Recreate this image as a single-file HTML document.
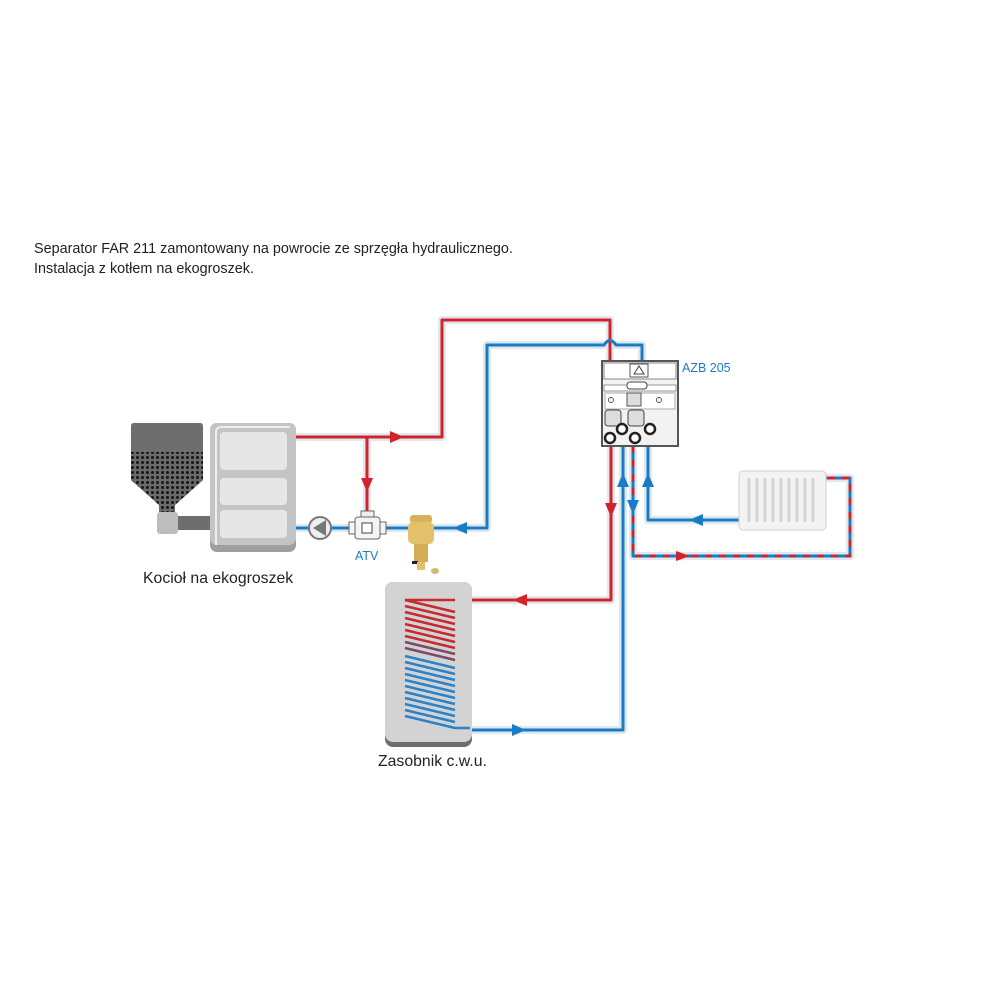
<!DOCTYPE html>
<html><head><meta charset="utf-8"><style>
html,body{margin:0;padding:0;background:#fff;width:1000px;height:1000px;overflow:hidden}
svg{display:block}
text{font-family:"Liberation Sans",sans-serif}
</style></head><body>
<svg width="1000" height="1000" viewBox="0 0 1000 1000" xmlns="http://www.w3.org/2000/svg">
<defs>
<pattern id="dots" width="5" height="5" patternUnits="userSpaceOnUse">
<rect width="5" height="5" fill="#6a6a6a"/><circle cx="2.5" cy="2.5" r="1.5" fill="#161616"/>
</pattern>
</defs>
<text x="34" y="253" font-size="14.4" fill="#222">Separator FAR 211 zamontowany na powrocie ze sprzęgła hydraulicznego.</text>
<text x="34" y="273" font-size="14.4" fill="#222">Instalacja z kotłem na ekogroszek.</text>

<g fill="none" stroke="#dfe7ef" stroke-width="8" stroke-linejoin="round">
<path d="M296 437H442V320H610V361"/>
<path d="M367 437V512"/>
<path d="M296 528H487V345H642V361"/>
<path d="M611 446V600H402"/>
<path d="M623 446V730H460"/>
<path d="M633 446V556H850V478H826"/>
<path d="M648 446V520H740"/>
</g>
<g fill="none" stroke="#d2232a" stroke-width="3" stroke-linejoin="round">
<path d="M296 437H442V320H610V361"/>
<path d="M367 437V512"/>
<path d="M611 446V600H402"/>
</g>
<g fill="none" stroke="#1a7cc4" stroke-width="3" stroke-linejoin="round">
<path d="M296 528H487V345H604Q610 336 616 345H642V361"/>
<path d="M623 446V730H460"/>
<path d="M648 446V520H740"/>
<path d="M633 446V556H850V478H826"/>
</g>
<path d="M633 446V556H850V478H826" fill="none" stroke="#d2232a" stroke-width="3" stroke-dasharray="7 7"/>
<g fill="#d2232a">
<polygon points="390,431 404,437 390,443"/>
<polygon points="361,478 367,492 373,478"/>
<polygon points="605,503 611,517 617,503"/>
<polygon points="527,594 513,600 527,606"/>
<polygon points="676,551 690,556 676,561"/>
</g>
<g fill="#1a7cc4">
<polygon points="467,522 453,528 467,534"/>
<polygon points="617,487 623,473 629,487"/>
<polygon points="642,487 648,473 654,487"/>
<polygon points="703,514 689,520 703,526"/>
<polygon points="512,724 526,730 512,736"/>
<polygon points="627,500 633,514 639,500"/>
</g>

<path d="M134 423H200Q203 423 203 426V480L175 505V512H159V505L131 480V426Q131 423 134 423Z" fill="#6e6e6e"/>
<path d="M131 452H203V480L175 505V512H159V505L131 480Z" fill="url(#dots)"/>
<rect x="177" y="516" width="34" height="14" fill="#6e6e6e"/>
<rect x="157" y="512" width="21" height="22" rx="3" fill="#bdbdbd"/>
<rect x="210" y="423" width="86" height="129" rx="7" fill="#9e9e9e"/>
<rect x="210" y="423" width="86" height="122" rx="7" fill="#c4c4c4"/>
<path d="M216 545V432Q216 427 222 427H290" fill="none" stroke="#eee" stroke-width="2"/>
<rect x="220" y="432" width="67" height="38" rx="4" fill="#e6e6e6"/>
<rect x="220" y="478" width="67" height="27" rx="4" fill="#e6e6e6"/>
<rect x="220" y="510" width="67" height="28" rx="4" fill="#e6e6e6"/>
<text x="143" y="583" font-size="15.8" fill="#222">Kocioł na ekogroszek</text>

<circle cx="320" cy="528" r="11" fill="#eee" stroke="#777" stroke-width="2"/>
<polygon points="313,528 326,520 326,536" fill="#777"/>
<rect x="361" y="511" width="13" height="6" fill="#eee" stroke="#666"/>
<rect x="355" y="517" width="25" height="22" rx="3" fill="#f4f4f4" stroke="#666"/>
<rect x="349" y="522" width="6" height="12" fill="#f4f4f4" stroke="#666"/>
<rect x="380" y="522" width="6" height="12" fill="#f4f4f4" stroke="#666"/>
<rect x="362" y="523" width="10" height="10" fill="#fff" stroke="#444"/>
<text x="355" y="560" font-size="12.5" fill="#1a7cc4">ATV</text>
<rect x="410" y="515" width="22" height="8" rx="3" fill="#d9b15a"/>
<rect x="408" y="522" width="26" height="22" rx="5" fill="#e3c06a"/>
<rect x="414" y="544" width="14" height="18" fill="#d6ad56"/>
<rect x="412" y="561" width="6" height="3" fill="#222"/>
<rect x="417" y="562" width="8" height="8" fill="#e3c06a"/>
<ellipse cx="435" cy="571" rx="4" ry="3" fill="#d8b37a"/>

<rect x="602" y="361" width="76" height="85" fill="#f2f2f2" stroke="#555" stroke-width="2"/>
<rect x="604" y="363" width="72" height="16" fill="#fff" stroke="#888"/>
<rect x="630" y="364" width="18" height="13" fill="#fff" stroke="#555"/>
<polygon points="639,366 634,374 644,374" fill="none" stroke="#444"/>
<rect x="604" y="385" width="72" height="6" fill="#fff" stroke="#999"/>
<rect x="627" y="382" width="20" height="7" rx="3" fill="#fff" stroke="#444"/>
<rect x="605" y="393" width="70" height="16" fill="#fff" stroke="#aaa"/>
<rect x="627" y="393" width="14" height="13" fill="#ddd" stroke="#555"/>
<circle cx="611" cy="400" r="2.5" fill="none" stroke="#555"/>
<circle cx="659" cy="400" r="2.5" fill="none" stroke="#555"/>
<rect x="605" y="410" width="16" height="16" rx="3" fill="#ddd" stroke="#444"/>
<rect x="628" y="410" width="16" height="16" rx="3" fill="#ddd" stroke="#444"/>
<circle cx="622" cy="429" r="5" fill="#fff" stroke="#222" stroke-width="2.5"/>
<circle cx="650" cy="429" r="5" fill="#fff" stroke="#222" stroke-width="2.5"/>
<circle cx="610" cy="438" r="5" fill="#fff" stroke="#222" stroke-width="2.5"/>
<circle cx="635" cy="438" r="5" fill="#fff" stroke="#222" stroke-width="2.5"/>
<text x="682" y="372" font-size="12.5" fill="#1a7cc4">AZB 205</text>

<rect x="739" y="471" width="87" height="59" rx="4" fill="#f3f3f3" stroke="#cfcfcf"/>
<g stroke="#d6d6d6" stroke-width="3">
<path d="M749 478V522M757 478V522M765 478V522M773 478V522M781 478V522M789 478V522M797 478V522M805 478V522M813 478V522"/>
</g>

<rect x="385" y="582" width="87" height="165" rx="8" fill="#6e6e6e"/>
<rect x="385" y="582" width="87" height="160" rx="8" fill="#d3d3d3"/>
<g fill="none" stroke-width="2.5">
<g stroke="#c62a30">
<path d="M455 600H405L455 612M405 606L455 618M405 612L455 624M405 618L455 630M405 624L455 636M405 630L455 642M405 636L455 648"/>
</g>
<path d="M405 642L455 654M405 648L455 660" stroke="#7a4a66"/>
<g stroke="#2a82c8">
<path d="M405 656L455 668M405 662L455 674M405 668L455 680M405 674L455 686M405 680L455 692M405 686L455 698M405 692L455 704M405 698L455 710M405 704L455 716M405 710L455 722M405 716L455 728H470"/>
</g>
</g>
<text x="378" y="766" font-size="15.8" fill="#222">Zasobnik c.w.u.</text>
</svg>
</body></html>
